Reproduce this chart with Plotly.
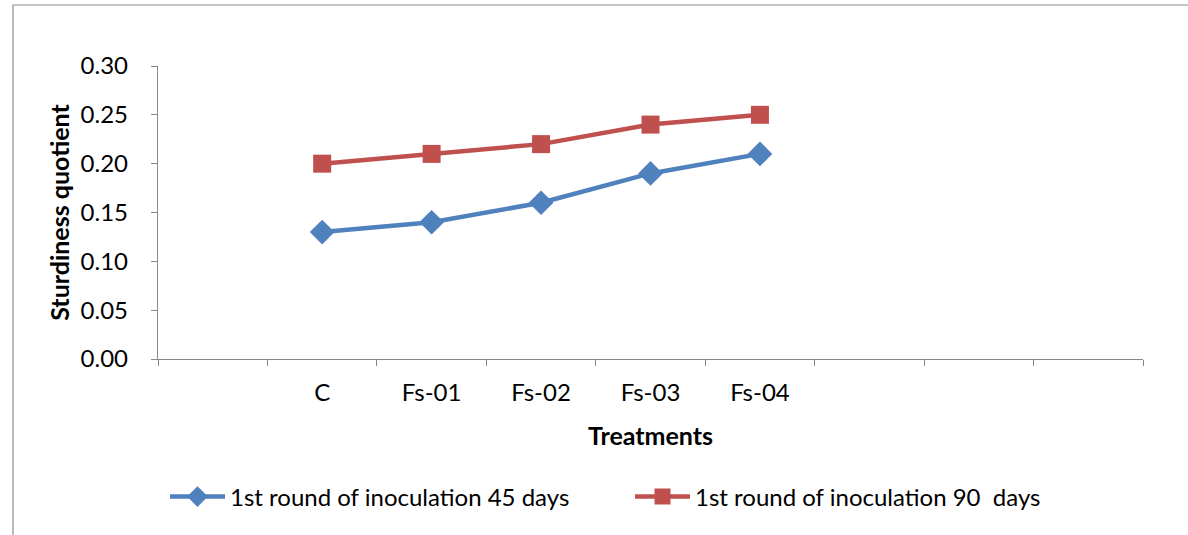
import plotly.graph_objects as go

# Treatments and sturdiness quotient values
treatments = ["C", "Fs-01", "Fs-02", "Fs-03", "Fs-04"]
sq_45_days = [0.13, 0.14, 0.16, 0.19, 0.21]
sq_90_days = [0.20, 0.21, 0.22, 0.24, 0.25]
y_ticks = [0.00, 0.05, 0.10, 0.15, 0.20, 0.25, 0.30]

# Category slots on the x axis (one empty slot before, three after)
slots = [" "] + treatments + ["  ", "   ", "    "]

W, H = 1188, 535
L, R, T, B = 158, 45, 66, 176
pw, ph = W - L - R, H - T - B

FONT = "Lato, 'Open Sans', sans-serif"
BLUE = "#4F81BD"
RED = "#C0504D"
AXIS = "#878787"

fig = go.Figure()
fig.add_trace(go.Scatter(
    x=treatments, y=sq_45_days, mode="lines+markers",
    name="1st round of inoculation 45 days",
    line=dict(color=BLUE, width=4.5),
    marker=dict(symbol="diamond", size=19, color=BLUE),
    legend="legend",
))
fig.add_trace(go.Scatter(
    x=treatments, y=sq_90_days, mode="lines+markers",
    name="1st round of inoculation 90  days",
    line=dict(color=RED, width=4.5),
    marker=dict(symbol="square", size=18, color=RED),
    legend="legend2",
))

def px_x(x):
    return (x - L) / pw

def px_y(y):
    return 1 - (y - T) / ph

# outer chart frame
fig.add_shape(type="rect", xref="paper", yref="paper",
              x0=px_x(13), x1=px_x(1300), y0=px_y(5), y1=px_y(700),
              line=dict(color="#8C8C8C", width=1.2), fillcolor="rgba(0,0,0,0)",
              layer="below")

legend_common = dict(
    orientation="h", xanchor="left", yanchor="middle",
    font=dict(family=FONT, size=24, color="#000000"),
    bgcolor="rgba(0,0,0,0)", itemwidth=55,
)

fig.update_layout(
    width=W, height=H,
    margin=dict(l=L, r=R, t=T, b=B, pad=0),
    paper_bgcolor="white", plot_bgcolor="white",
    font=dict(family=FONT, size=24, color="#000000"),
    showlegend=True,
    legend=dict(x=px_x(165), y=px_y(497), **legend_common),
    legend2=dict(x=px_x(630), y=px_y(497), **legend_common),
    xaxis=dict(
        type="category", categoryorder="array", categoryarray=slots,
        range=[-0.5, len(slots) - 0.5],
        showline=True, linecolor=AXIS, linewidth=1.3,
        ticks="outside", tickson="boundaries", ticklen=6, tickcolor=AXIS, tickwidth=1.3,
        showgrid=False, zeroline=False,
        tickfont=dict(family=FONT, size=24),
        ticklabelstandoff=12,
        title=dict(text="<b>Treatments</b>", font=dict(family=FONT, size=25), standoff=22),
    ),
    yaxis=dict(
        range=[0, 0.30], tickvals=y_ticks, tickformat=".2f",
        showline=True, linecolor=AXIS, linewidth=1.3,
        ticks="outside", ticklen=6, tickcolor=AXIS, tickwidth=1.3,
        showgrid=False, zeroline=False,
        tickfont=dict(family=FONT, size=24),
        ticklabelstandoff=18,
        title=dict(text="<b>Sturdiness quotient</b>", font=dict(family=FONT, size=25), standoff=3),
    ),
)

fig.write_html("out.html")
